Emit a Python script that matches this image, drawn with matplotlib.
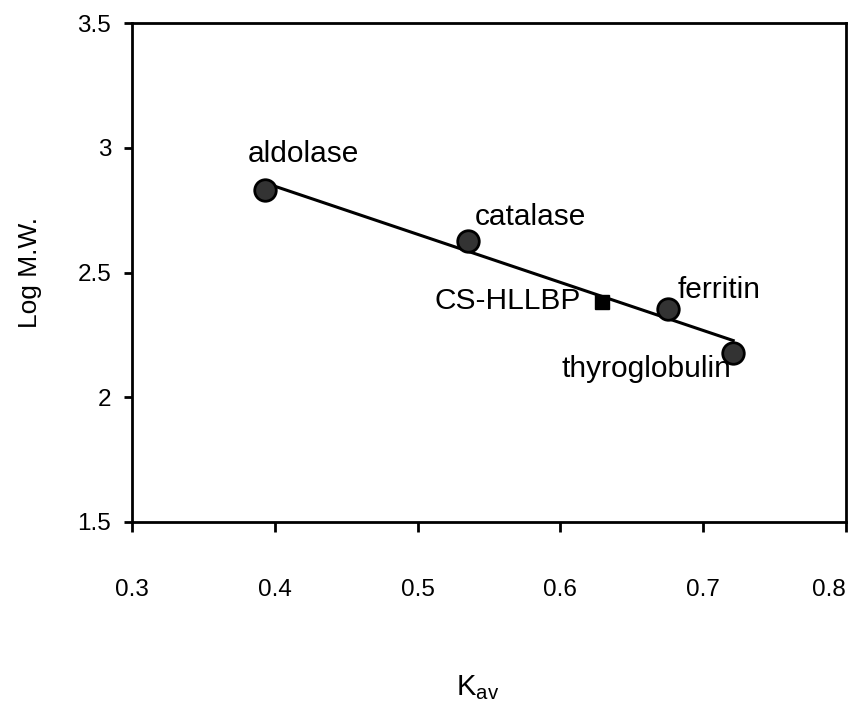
import numpy as np
import matplotlib
matplotlib.use("Agg")
import matplotlib.pyplot as plt

plt.rcParams['font.family'] = ['Liberation Sans', 'DejaVu Sans']

# gel filtration standards
proteins = ["aldolase", "catalase", "ferritin", "thyroglobulin"]
kav = [0.393, 0.535, 0.675, 0.721]
log_mw = [2.831, 2.626, 2.354, 2.177]

# sample
sample_name = "CS-HLLBP"
sample_kav = 0.629
sample_log_mw = 2.382

x_ticks = [0.3, 0.4, 0.5, 0.6, 0.7, 0.8]
y_ticks = [1.5, 2, 2.5, 3, 3.5]

# label anchors (data coords)
label_pos = {
    "aldolase": (0.381, 2.943, "left"),
    "catalase": (0.540, 2.690, "left"),
    "ferritin": (0.682, 2.398, "left"),
    "thyroglobulin": (0.601, 2.081, "left"),
}
sample_label_pos = (0.614, 2.354, "right")

fig = plt.figure(figsize=(8.6, 7.16), dpi=100)
ax = fig.add_axes([132 / 860, 1 - 522 / 716, (846 - 132) / 860, (522 - 23) / 716])

# regression line through the standards
slope, icpt = np.polyfit(kav, log_mw, 1)
xl = np.array([min(kav), max(kav)])
ax.plot(xl, slope * xl + icpt, color='black', lw=2.2, zorder=2)

ax.plot(kav, log_mw, 'o', ms=15.5, mfc='#333333', mec='black', mew=2, zorder=3)
ax.plot([sample_kav], [sample_log_mw], 's', ms=10.5, color='black', zorder=3)

for name in proteins:
    x, y, ha = label_pos[name]
    ax.text(x, y, name, fontsize=21.5, ha=ha, va='baseline', zorder=4)
x, y, ha = sample_label_pos
ax.text(x, y, sample_name, fontsize=21.5, ha=ha, va='baseline', zorder=4)

ax.set_xlim(0.3, 0.8)
ax.set_ylim(1.5, 3.5)
ax.set_xticks(x_ticks)
ax.set_yticks(y_ticks)
ax.set_xticklabels([f"{v:g}" for v in x_ticks])
ax.set_yticklabels([f"{v:g}" for v in y_ticks])
ax.get_xticklabels()[-1].set_ha('right')

for s in ax.spines.values():
    s.set_linewidth(2)
ax.tick_params(axis='x', direction='out', length=7, width=2, pad=34, labelsize=17.5)
ax.tick_params(axis='y', direction='out', length=6, width=2, pad=9, labelsize=17.5)

fig.text(30 / 860, 1 - 272 / 716, "Log M.W.", rotation=90, fontsize=19,
         ha='center', va='center')
fig.text(478 / 860, 1 - 688 / 716, r"K$_{\mathregular{av}}$", fontsize=21,
         ha='center', va='center')

fig.savefig("out.png", dpi=100)
